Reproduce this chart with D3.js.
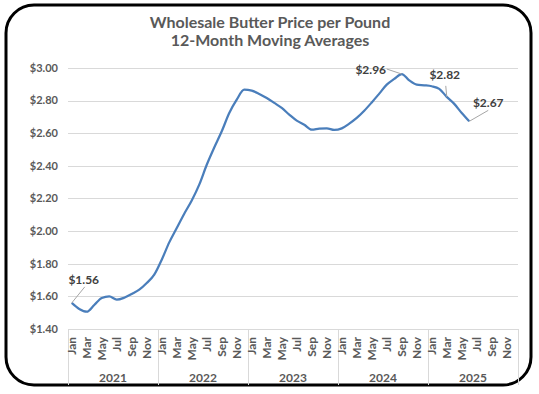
<!DOCTYPE html>
<meta charset="utf-8">
<title>Wholesale Butter Price</title>
<style>
  body { margin: 0; background: #fff; }
  text { font-family: Lato, "Liberation Sans", sans-serif; }
</style>
<body>
<script src="https://cdn.jsdelivr.net/npm/d3@7"></script>
<script>

var years = ["2021", "2022", "2023", "2024", "2025"];
var months = ["Jan", "Feb", "Mar", "Apr", "May", "Jun", "Jul", "Aug", "Sep", "Oct", "Nov", "Dec"];
var yTicks = [1.40, 1.60, 1.80, 2.00, 2.20, 2.40, 2.60, 2.80, 3.00];

// 12-month moving average, $ per pound, Jan 2021 .. Jun 2025
var prices = [
  1.56, 1.523, 1.506, 1.547, 1.59, 1.60, 1.58, 1.592, 1.615, 1.641, 1.682, 1.733,
  1.825, 1.931, 2.019, 2.107, 2.188, 2.285, 2.407, 2.513, 2.612, 2.724, 2.806, 2.867,
  2.861, 2.841, 2.816, 2.786, 2.755, 2.714, 2.677, 2.652, 2.622, 2.628, 2.63, 2.62,
  2.63, 2.659, 2.694, 2.738, 2.789, 2.843, 2.898, 2.933, 2.963, 2.924, 2.898, 2.894,
  2.888, 2.872, 2.823, 2.78, 2.724, 2.673
];

// points that carry a data label
var labelled = [0, 44, 50, 53];

var width = 539, height = 394;
var plotLeft = 68, plotRight = 518, plotTop = 68, plotBottom = 329;
var grey = "#595959", gridColor = "#d9d9d9";

var svg = d3.select("body").append("svg")
    .attr("width", width)
    .attr("height", height);

// rounded frame
svg.append("rect")
  .attr("x", 6).attr("y", 5)
  .attr("width", 525).attr("height", 380)
  .attr("rx", 28).attr("ry", 28)
  .attr("fill", "#fff")
  .attr("stroke", "#000")
  .attr("stroke-width", 3);

// title
svg.append("text")
  .attr("x", 270).attr("y", 28)
  .attr("text-anchor", "middle")
  .style("font-size", "16px").style("font-weight", "bold")
  .style("fill", grey)
  .text("Wholesale Butter Price per Pound");
svg.append("text")
  .attr("x", 270).attr("y", 46)
  .attr("text-anchor", "middle")
  .style("font-size", "16px").style("font-weight", "bold")
  .style("fill", grey)
  .text("12-Month Moving Averages");

var keys = [];
years.forEach(function(yr) {
  months.forEach(function(m) { keys.push(yr + "-" + m); });
});

var x = d3.scaleBand().domain(keys).range([plotLeft, plotRight]);
var y = d3.scaleLinear().domain([1.4, 3.0]).range([plotBottom, plotTop]);
var fmt = d3.format("$.2f");

// gridlines
svg.append("g")
  .selectAll("line")
  .data(yTicks)
  .join("line")
  .attr("x1", plotLeft).attr("x2", plotRight)
  .attr("y1", function(d) { return Math.round(y(d)) + 0.5; })
  .attr("y2", function(d) { return Math.round(y(d)) + 0.5; })
  .attr("stroke", gridColor);

// y labels
svg.append("g")
  .selectAll("text")
  .data(yTicks)
  .join("text")
  .attr("x", 58)
  .attr("y", function(d) { return y(d); })
  .attr("dy", "0.35em")
  .attr("text-anchor", "end")
  .style("font-size", "11px").style("font-weight", "bold")
  .style("fill", grey)
  .text(fmt);

// year separators
var yearW = x.bandwidth() * 12;
svg.append("g")
  .selectAll("line")
  .data(d3.range(years.length + 1))
  .join("line")
  .attr("x1", function(i) { return Math.round(plotLeft + i * yearW) + 0.5; })
  .attr("x2", function(i) { return Math.round(plotLeft + i * yearW) + 0.5; })
  .attr("y1", plotBottom).attr("y2", 385)
  .attr("stroke", gridColor);

// month labels (odd months only)
var shown = keys.filter(function(k, i) { return i % 2 === 0; });
svg.append("g")
  .selectAll("text")
  .data(shown)
  .join("text")
  .attr("transform", function(k) {
    return "translate(" + (x(k) + x.bandwidth() / 2) + "," + (plotBottom + 8) + ") rotate(-90)";
  })
  .attr("dy", "0.35em")
  .attr("text-anchor", "end")
  .style("font-size", "12px").style("font-weight", "bold")
  .style("fill", grey)
  .text(function(k) { return k.split("-")[1]; });

// year labels
svg.append("g")
  .selectAll("text")
  .data(years)
  .join("text")
  .attr("x", function(d, i) { return plotLeft + (i + 0.5) * yearW; })
  .attr("y", 382)
  .attr("text-anchor", "middle")
  .style("font-size", "12px").style("font-weight", "bold")
  .style("fill", grey)
  .text(function(d) { return d; });

// line
var line = d3.line()
  .x(function(d, i) { return x(keys[i]) + x.bandwidth() / 2; })
  .y(function(d) { return y(d); })
  .curve(d3.curveMonotoneX);

svg.append("path")
  .datum(prices)
  .attr("d", line)
  .attr("fill", "none")
  .attr("stroke", "#4a7ebb")
  .attr("stroke-width", 2.25)
  .attr("stroke-linejoin", "round");

// data labels with leader lines: offset of label centre from point
var offsets = { 0: [12, -23], 44: [-31, -4], 50: [-2, -22], 53: [19, -19] };
var leaderEnd = { 0: [13, -16], 44: [-15, -5], 50: [-1, -11], 53: [19, -11] };

labelled.forEach(function(i) {
  var px = x(keys[i]) + x.bandwidth() / 2, py = y(prices[i]);
  var o = offsets[i], e = leaderEnd[i];
  svg.append("line")
    .attr("x1", px).attr("y1", py)
    .attr("x2", px + e[0]).attr("y2", py + e[1])
    .attr("stroke", "#a6a6a6").attr("stroke-width", 1);
  svg.append("text")
    .attr("x", px + o[0]).attr("y", py + o[1])
    .attr("dy", "0.35em")
    .attr("text-anchor", "middle")
    .style("font-size", "12px").style("font-weight", "bold")
    .style("fill", "#404040")
    .text(fmt(prices[i]));
});

</script>
